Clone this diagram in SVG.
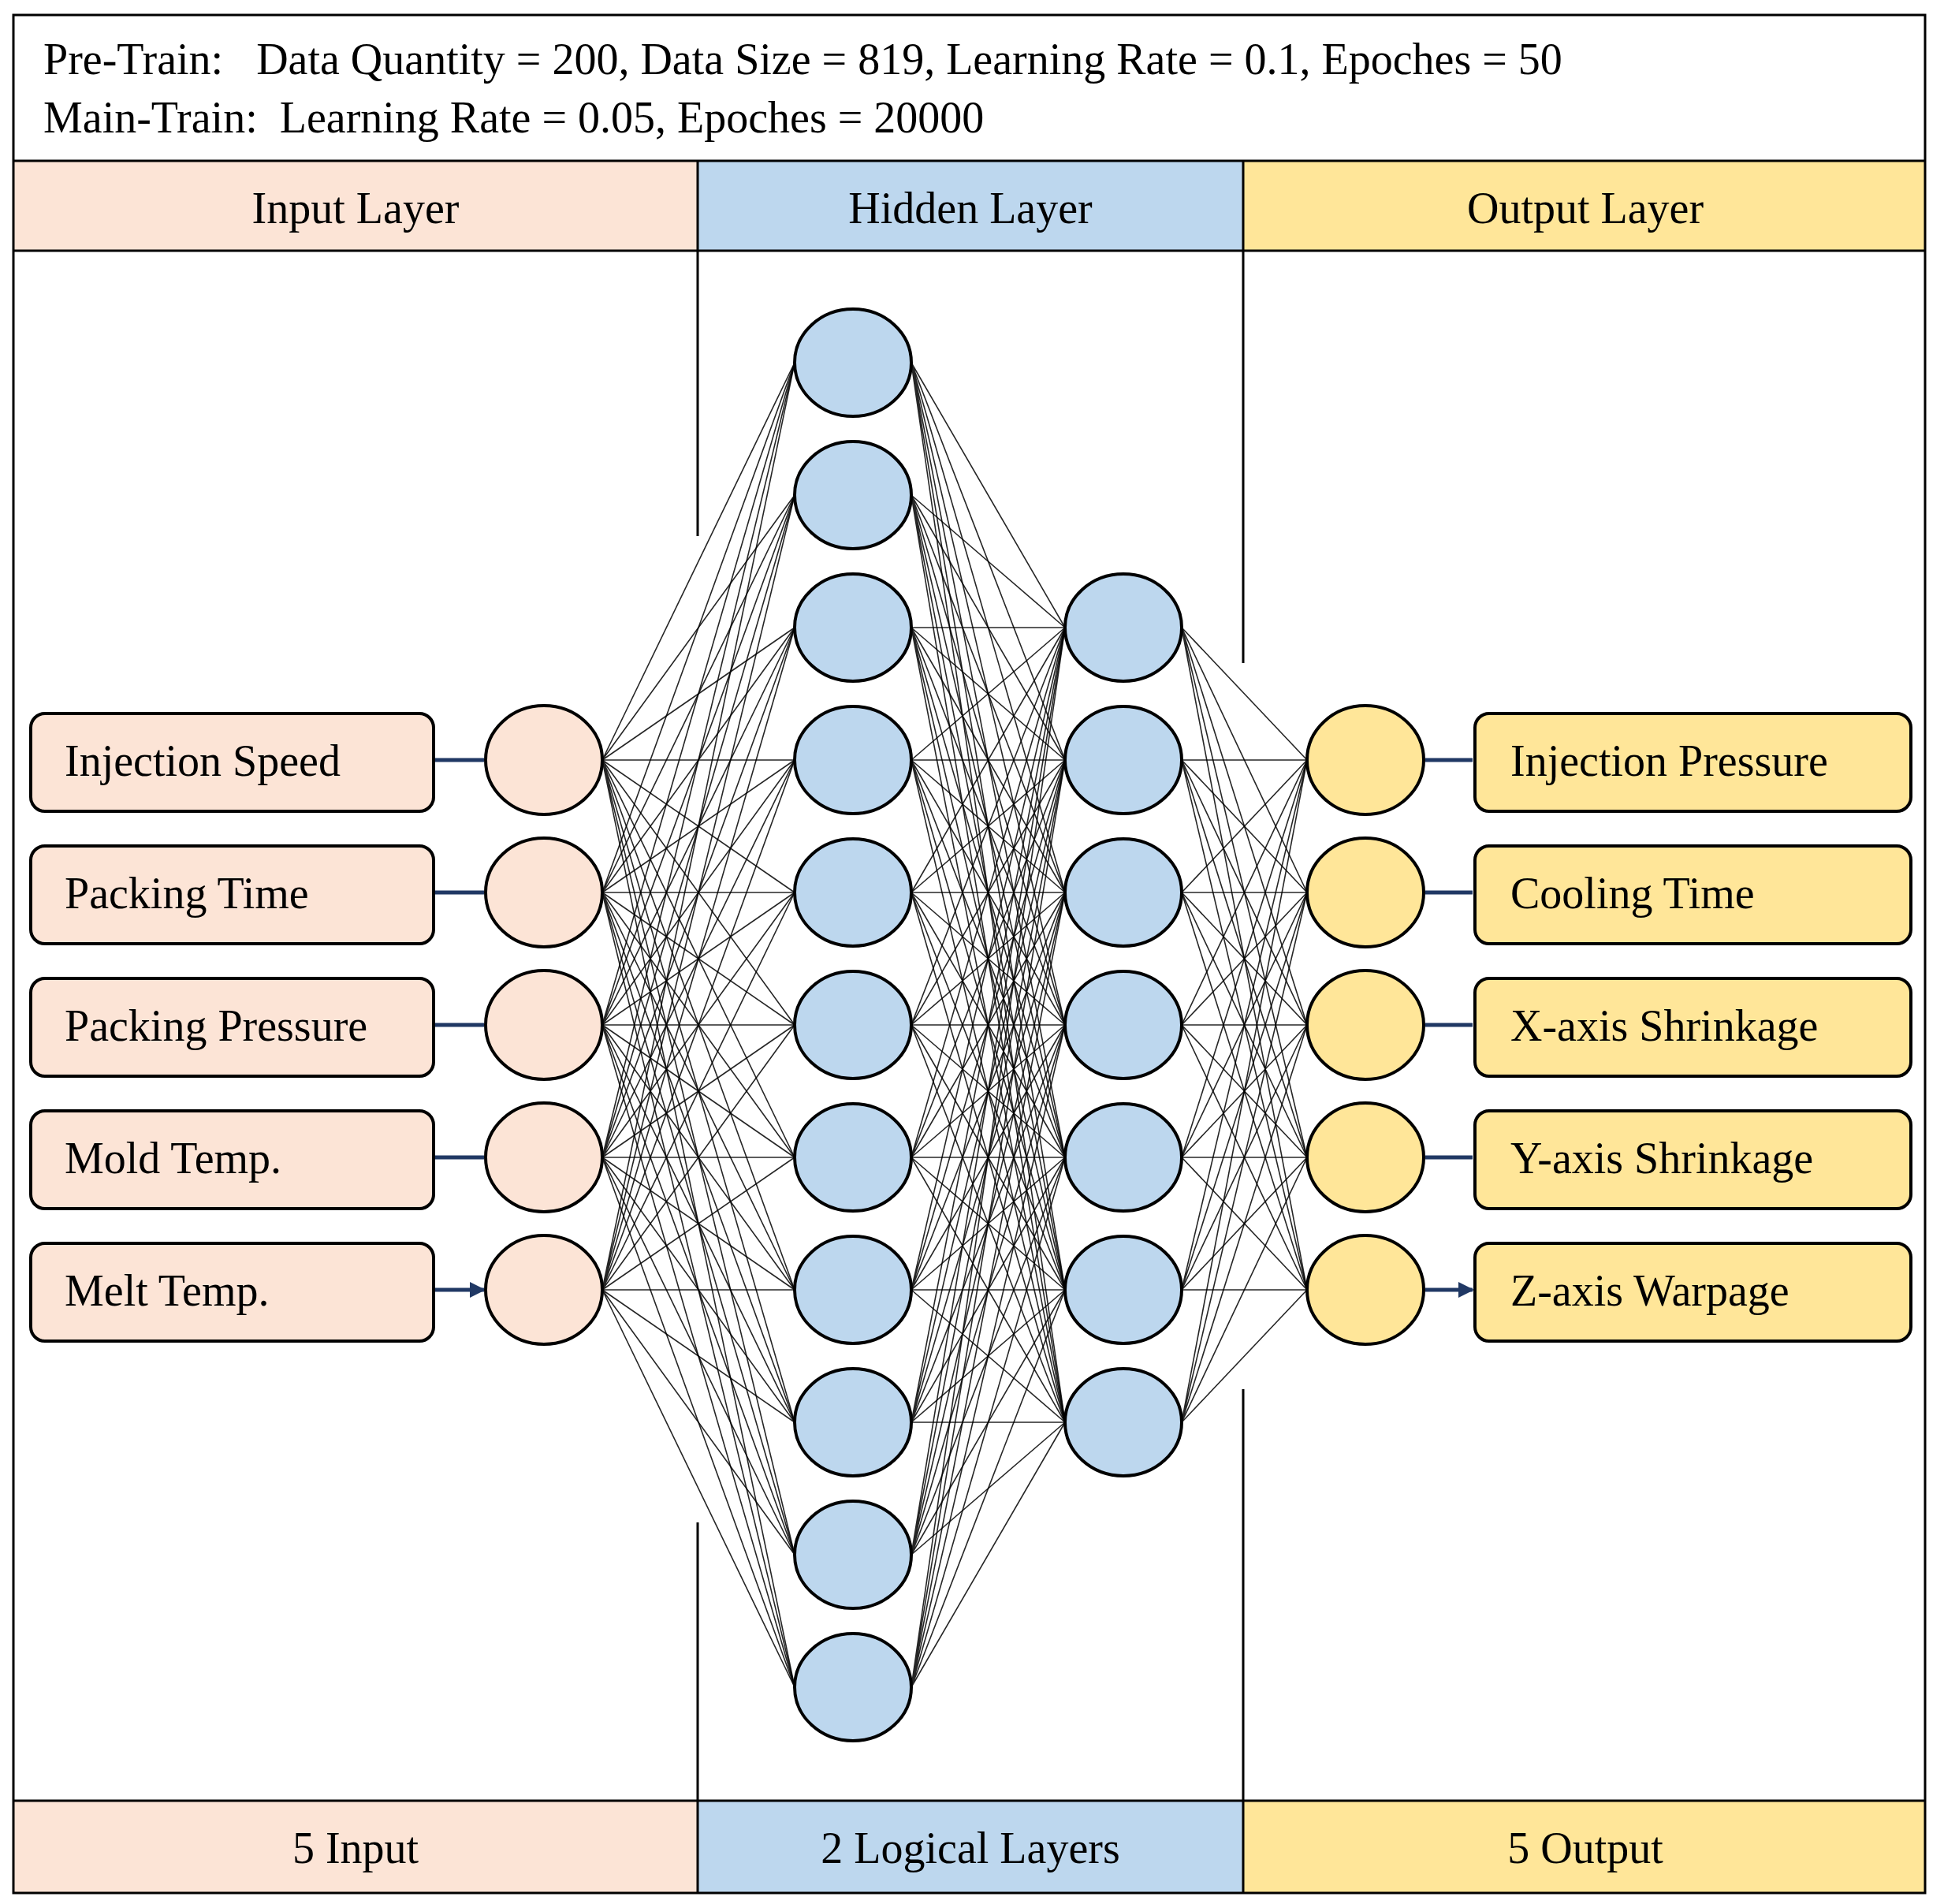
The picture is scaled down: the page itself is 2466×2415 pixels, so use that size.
<svg xmlns="http://www.w3.org/2000/svg" width="2466" height="2415" viewBox="0 0 2466 2415">
<defs>
<style>
text{font-family:"Liberation Serif","Times New Roman",serif;fill:#000}
.t{font-size:56px}
.h{font-size:56px;text-anchor:middle}
.b{font-size:56px}
.in{fill:#FCE4D6}
.hid{fill:#BDD7EE}
.out{fill:#FFE699}
.node{stroke:#000;stroke-width:4}
.box{stroke:#000;stroke-width:4}
.ln{stroke:#000;stroke-width:1.6;fill:none;opacity:0.85}
.ar{stroke:#203864;stroke-width:5;fill:none}
</style>
<marker id="arr" viewBox="0 0 10 10" refX="9" refY="5" markerWidth="4" markerHeight="4" markerUnits="strokeWidth" orient="auto"><path d="M0 0L10 5L0 10Z" fill="#203864"/></marker>
</defs>
<rect x="0" y="0" width="2466" height="2415" fill="#fff"/>
<g id="frame">
<rect class="in" x="17" y="204" width="868" height="114"/>
<rect class="hid" x="885" y="204" width="692" height="114"/>
<rect class="out" x="1577" y="204" width="865" height="114"/>
<rect class="in" x="17" y="2284" width="868" height="117"/>
<rect class="hid" x="885" y="2284" width="692" height="117"/>
<rect class="out" x="1577" y="2284" width="865" height="117"/>
<rect x="17" y="19" width="2425" height="2382" fill="none" stroke="#000" stroke-width="3"/>
<path d="M17 204H2442M17 318H2442M17 2284H2442M885 204V318M1577 204V318M885 2284V2401M1577 2284V2401M885 318V680M885 1931V2284M1577 318V841M1577 1762V2284" stroke="#000" stroke-width="3" fill="none"/>
<text class="t" x="55" y="94" xml:space="preserve">Pre-Train:   Data Quantity = 200, Data Size = 819, Learning Rate = 0.1, Epoches = 50</text>
<text class="t" x="55" y="168" xml:space="preserve">Main-Train:  Learning Rate = 0.05, Epoches = 20000</text>
<text class="h" x="451" y="283">Input Layer</text>
<text class="h" x="1231" y="283">Hidden Layer</text>
<text class="h" x="2011" y="283">Output Layer</text>
<text class="h" x="451" y="2363">5 Input</text>
<text class="h" x="1231" y="2363">2 Logical Layers</text>
<text class="h" x="2011" y="2363">5 Output</text>
</g>
<g id="connectors">
<path class="ln" d="M764 964L1008 460M764 964L1008 628M764 964L1008 796M764 964L1008 964M764 964L1008 1132M764 964L1008 1300M764 964L1008 1468M764 964L1008 1636M764 964L1008 1804M764 964L1008 1972M764 964L1008 2140"/>
<path class="ln" d="M764 1132L1008 460M764 1132L1008 628M764 1132L1008 796M764 1132L1008 964M764 1132L1008 1132M764 1132L1008 1300M764 1132L1008 1468M764 1132L1008 1636M764 1132L1008 1804M764 1132L1008 1972M764 1132L1008 2140"/>
<path class="ln" d="M764 1300L1008 460M764 1300L1008 628M764 1300L1008 796M764 1300L1008 964M764 1300L1008 1132M764 1300L1008 1300M764 1300L1008 1468M764 1300L1008 1636M764 1300L1008 1804M764 1300L1008 1972M764 1300L1008 2140"/>
<path class="ln" d="M764 1468L1008 460M764 1468L1008 628M764 1468L1008 796M764 1468L1008 964M764 1468L1008 1132M764 1468L1008 1300M764 1468L1008 1468M764 1468L1008 1636M764 1468L1008 1804M764 1468L1008 1972M764 1468L1008 2140"/>
<path class="ln" d="M764 1636L1008 460M764 1636L1008 628M764 1636L1008 796M764 1636L1008 964M764 1636L1008 1132M764 1636L1008 1300M764 1636L1008 1468M764 1636L1008 1636M764 1636L1008 1804M764 1636L1008 1972M764 1636L1008 2140"/>
<path class="ln" d="M1156 460L1351 796M1156 460L1351 964M1156 460L1351 1132M1156 460L1351 1300M1156 460L1351 1468M1156 460L1351 1636M1156 460L1351 1804"/>
<path class="ln" d="M1156 628L1351 796M1156 628L1351 964M1156 628L1351 1132M1156 628L1351 1300M1156 628L1351 1468M1156 628L1351 1636M1156 628L1351 1804"/>
<path class="ln" d="M1156 796L1351 796M1156 796L1351 964M1156 796L1351 1132M1156 796L1351 1300M1156 796L1351 1468M1156 796L1351 1636M1156 796L1351 1804"/>
<path class="ln" d="M1156 964L1351 796M1156 964L1351 964M1156 964L1351 1132M1156 964L1351 1300M1156 964L1351 1468M1156 964L1351 1636M1156 964L1351 1804"/>
<path class="ln" d="M1156 1132L1351 796M1156 1132L1351 964M1156 1132L1351 1132M1156 1132L1351 1300M1156 1132L1351 1468M1156 1132L1351 1636M1156 1132L1351 1804"/>
<path class="ln" d="M1156 1300L1351 796M1156 1300L1351 964M1156 1300L1351 1132M1156 1300L1351 1300M1156 1300L1351 1468M1156 1300L1351 1636M1156 1300L1351 1804"/>
<path class="ln" d="M1156 1468L1351 796M1156 1468L1351 964M1156 1468L1351 1132M1156 1468L1351 1300M1156 1468L1351 1468M1156 1468L1351 1636M1156 1468L1351 1804"/>
<path class="ln" d="M1156 1636L1351 796M1156 1636L1351 964M1156 1636L1351 1132M1156 1636L1351 1300M1156 1636L1351 1468M1156 1636L1351 1636M1156 1636L1351 1804"/>
<path class="ln" d="M1156 1804L1351 796M1156 1804L1351 964M1156 1804L1351 1132M1156 1804L1351 1300M1156 1804L1351 1468M1156 1804L1351 1636M1156 1804L1351 1804"/>
<path class="ln" d="M1156 1972L1351 796M1156 1972L1351 964M1156 1972L1351 1132M1156 1972L1351 1300M1156 1972L1351 1468M1156 1972L1351 1636M1156 1972L1351 1804"/>
<path class="ln" d="M1156 2140L1351 796M1156 2140L1351 964M1156 2140L1351 1132M1156 2140L1351 1300M1156 2140L1351 1468M1156 2140L1351 1636M1156 2140L1351 1804"/>
<path class="ln" d="M1499 796L1658 964M1499 796L1658 1132M1499 796L1658 1300M1499 796L1658 1468M1499 796L1658 1636"/>
<path class="ln" d="M1499 964L1658 964M1499 964L1658 1132M1499 964L1658 1300M1499 964L1658 1468M1499 964L1658 1636"/>
<path class="ln" d="M1499 1132L1658 964M1499 1132L1658 1132M1499 1132L1658 1300M1499 1132L1658 1468M1499 1132L1658 1636"/>
<path class="ln" d="M1499 1300L1658 964M1499 1300L1658 1132M1499 1300L1658 1300M1499 1300L1658 1468M1499 1300L1658 1636"/>
<path class="ln" d="M1499 1468L1658 964M1499 1468L1658 1132M1499 1468L1658 1300M1499 1468L1658 1468M1499 1468L1658 1636"/>
<path class="ln" d="M1499 1636L1658 964M1499 1636L1658 1132M1499 1636L1658 1300M1499 1636L1658 1468M1499 1636L1658 1636"/>
<path class="ln" d="M1499 1804L1658 964M1499 1804L1658 1132M1499 1804L1658 1300M1499 1804L1658 1468M1499 1804L1658 1636"/>
<path class="ar" marker-end="url(#arr)" d="M552 964H614M552 1132H614M552 1300H614M552 1468H614M552 1636H614"/>
<path class="ar" marker-end="url(#arr)" d="M1808 964H1868M1808 1132H1868M1808 1300H1868M1808 1468H1868M1808 1636H1868"/>
</g>
<g id="inputs">
<g id="in1"><rect class="in box" x="39" y="905" width="511" height="124" rx="18"/><text class="b" x="82" y="984">Injection Speed</text></g>
<g id="in2"><rect class="in box" x="39" y="1073" width="511" height="124" rx="18"/><text class="b" x="82" y="1152">Packing Time</text></g>
<g id="in3"><rect class="in box" x="39" y="1241" width="511" height="124" rx="18"/><text class="b" x="82" y="1320">Packing Pressure</text></g>
<g id="in4"><rect class="in box" x="39" y="1409" width="511" height="124" rx="18"/><text class="b" x="82" y="1488">Mold Temp.</text></g>
<g id="in5"><rect class="in box" x="39" y="1577" width="511" height="124" rx="18"/><text class="b" x="82" y="1656">Melt Temp.</text></g>
</g>
<g id="input-nodes">
<ellipse class="in node" cx="690" cy="964" rx="74" ry="69"/>
<ellipse class="in node" cx="690" cy="1132" rx="74" ry="69"/>
<ellipse class="in node" cx="690" cy="1300" rx="74" ry="69"/>
<ellipse class="in node" cx="690" cy="1468" rx="74" ry="69"/>
<ellipse class="in node" cx="690" cy="1636" rx="74" ry="69"/>
</g>
<g id="hidden1">
<ellipse class="hid node" cx="1082" cy="460" rx="74" ry="68"/>
<ellipse class="hid node" cx="1082" cy="628" rx="74" ry="68"/>
<ellipse class="hid node" cx="1082" cy="796" rx="74" ry="68"/>
<ellipse class="hid node" cx="1082" cy="964" rx="74" ry="68"/>
<ellipse class="hid node" cx="1082" cy="1132" rx="74" ry="68"/>
<ellipse class="hid node" cx="1082" cy="1300" rx="74" ry="68"/>
<ellipse class="hid node" cx="1082" cy="1468" rx="74" ry="68"/>
<ellipse class="hid node" cx="1082" cy="1636" rx="74" ry="68"/>
<ellipse class="hid node" cx="1082" cy="1804" rx="74" ry="68"/>
<ellipse class="hid node" cx="1082" cy="1972" rx="74" ry="68"/>
<ellipse class="hid node" cx="1082" cy="2140" rx="74" ry="68"/>
</g>
<g id="hidden2">
<ellipse class="hid node" cx="1425" cy="796" rx="74" ry="68"/>
<ellipse class="hid node" cx="1425" cy="964" rx="74" ry="68"/>
<ellipse class="hid node" cx="1425" cy="1132" rx="74" ry="68"/>
<ellipse class="hid node" cx="1425" cy="1300" rx="74" ry="68"/>
<ellipse class="hid node" cx="1425" cy="1468" rx="74" ry="68"/>
<ellipse class="hid node" cx="1425" cy="1636" rx="74" ry="68"/>
<ellipse class="hid node" cx="1425" cy="1804" rx="74" ry="68"/>
</g>
<g id="output-nodes">
<ellipse class="out node" cx="1732" cy="964" rx="74" ry="69"/>
<ellipse class="out node" cx="1732" cy="1132" rx="74" ry="69"/>
<ellipse class="out node" cx="1732" cy="1300" rx="74" ry="69"/>
<ellipse class="out node" cx="1732" cy="1468" rx="74" ry="69"/>
<ellipse class="out node" cx="1732" cy="1636" rx="74" ry="69"/>
</g>
<g id="outputs">
<g id="out1"><rect class="out box" x="1871" y="905" width="553" height="124" rx="18"/><text class="b" x="1916" y="984">Injection Pressure</text></g>
<g id="out2"><rect class="out box" x="1871" y="1073" width="553" height="124" rx="18"/><text class="b" x="1916" y="1152">Cooling Time</text></g>
<g id="out3"><rect class="out box" x="1871" y="1241" width="553" height="124" rx="18"/><text class="b" x="1916" y="1320">X-axis Shrinkage</text></g>
<g id="out4"><rect class="out box" x="1871" y="1409" width="553" height="124" rx="18"/><text class="b" x="1916" y="1488">Y-axis Shrinkage</text></g>
<g id="out5"><rect class="out box" x="1871" y="1577" width="553" height="124" rx="18"/><text class="b" x="1916" y="1656">Z-axis Warpage</text></g>
</g>
</svg>
